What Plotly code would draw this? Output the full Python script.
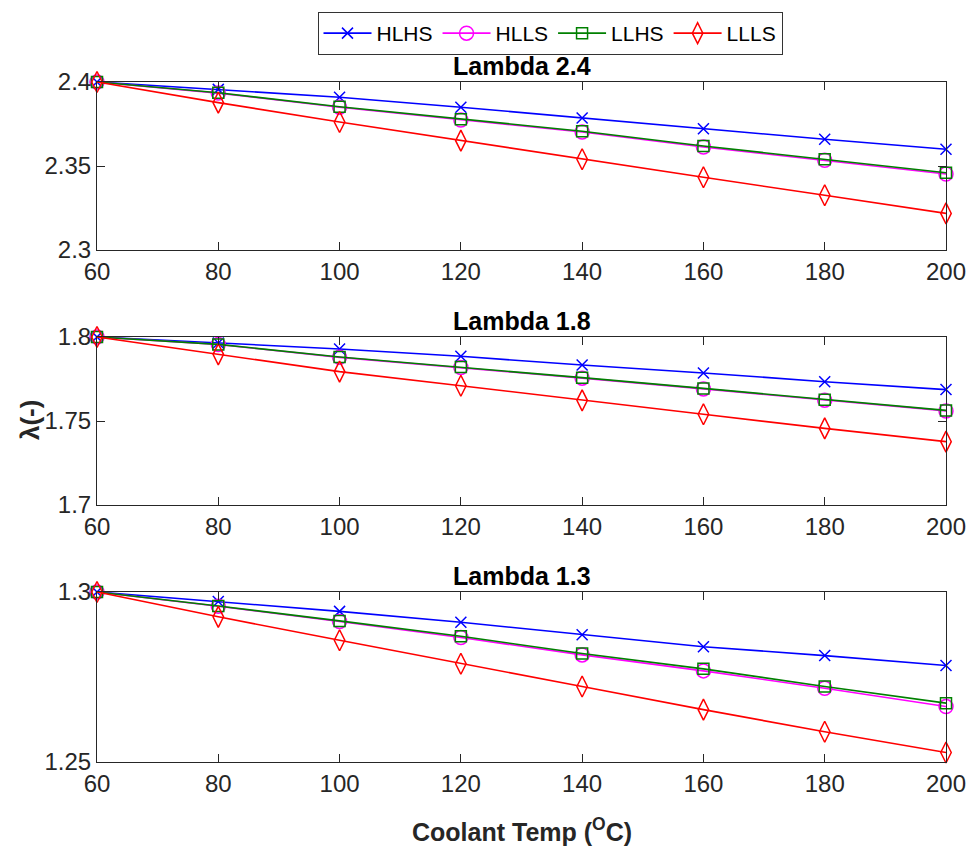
import plotly.graph_objects as go

temps = [60, 80, 100, 120, 140, 160, 180, 200]
series_names = ["HLHS", "HLLS", "LLHS", "LLLS"]

# Lambda 2.4
l24_hlhs = [2.4, 2.3956, 2.3909, 2.3850, 2.3786, 2.3722, 2.3659, 2.3600]
l24_hlls = [2.4, 2.3934, 2.3850, 2.3774, 2.3702, 2.3613, 2.3534, 2.3452]
l24_llhs = [2.4, 2.3936, 2.3853, 2.3778, 2.3707, 2.3619, 2.3540, 2.3460]
l24_llls = [2.4, 2.3877, 2.3762, 2.3651, 2.3540, 2.3433, 2.3326, 2.3218]

# Lambda 1.8
l18_hlhs = [1.8, 1.7964, 1.7929, 1.7885, 1.7833, 1.7786, 1.7734, 1.7687]
l18_hlls = [1.8, 1.7955, 1.7879, 1.7818, 1.7755, 1.7691, 1.7624, 1.7560]
l18_llhs = [1.8, 1.7956, 1.7881, 1.7821, 1.7758, 1.7694, 1.7627, 1.7563]
l18_llls = [1.8, 1.7897, 1.7794, 1.7710, 1.7623, 1.7540, 1.7456, 1.7377]

# Lambda 1.3
l13_hlhs = [1.3, 1.2972, 1.2943, 1.2911, 1.2874, 1.2839, 1.2813, 1.2784]
l13_hlls = [1.3, 1.2958, 1.2913, 1.2866, 1.2815, 1.2768, 1.2717, 1.2663]
l13_llhs = [1.3, 1.2959, 1.2915, 1.2870, 1.2819, 1.2774, 1.2722, 1.2673]
l13_llls = [1.3, 1.2927, 1.2858, 1.2789, 1.2722, 1.2654, 1.2589, 1.2528]

panel_titles = ["Lambda 2.4", "Lambda 1.8", "Lambda 1.3"]
x_ticks = [60, 80, 100, 120, 140, 160, 180, 200]
y_ticks = [[2.3, 2.35, 2.4], [1.7, 1.75, 1.8], [1.25, 1.3]]
y_ticktext = [["2.3", "2.35", "2.4"], ["1.7", "1.75", "1.8"], ["1.25", "1.3"]]
y_ranges = [[2.3, 2.4], [1.7, 1.8], [1.25, 1.3]]

panels = [
    [l24_hlhs, l24_hlls, l24_llhs, l24_llls],
    [l18_hlhs, l18_hlls, l18_llhs, l18_llls],
    [l13_hlhs, l13_hlls, l13_llhs, l13_llls],
]

colors = ["#0000FF", "#FF00FF", "#008000", "#FF0000"]
symbols = ["x-thin-open", "circle-open", "square-open", "diamond-tall-open"]
sizes = [11, 14, 11, 15]

H = 847.0
W = 969.0
ML, MR = 97, 23
PW = W - ML - MR
px_boxes = [(82, 250), (337, 505), (592, 762)]
domains = [[1 - b / H, 1 - t / H] for (t, b) in px_boxes]

FONT = "Liberation Sans"
AXC = "#262626"

fig = go.Figure()
for p, data in enumerate(panels):
    xa = "x" if p == 0 else f"x{p+1}"
    ya = "y" if p == 0 else f"y{p+1}"
    for s, vals in enumerate(data):
        fig.add_trace(go.Scatter(
            x=temps, y=vals, mode="lines+markers", name=series_names[s],
            xaxis=xa, yaxis=ya, showlegend=(p == 0),
            line=dict(color=colors[s], width=1.6),
            marker=dict(symbol=symbols[s], size=sizes[s], color=colors[s],
                        line=dict(color=colors[s], width=1.5)),
            cliponaxis=False,
        ))

layout = dict(
    width=969, height=847,
    margin=dict(l=ML, r=MR, t=0, b=0, autoexpand=False),
    paper_bgcolor="white", plot_bgcolor="white",
    font=dict(family=FONT, size=22, color="black"),
    legend=dict(orientation="h", x=(550 - ML) / PW, xanchor="center",
                y=1 - 12 / H, yanchor="top",
                bordercolor="#333333", borderwidth=1, bgcolor="white",
                font=dict(family=FONT, size=21, color="black"),
                itemwidth=48, tracegroupgap=0),
    annotations=[],
)
for p in range(3):
    xkey = "xaxis" if p == 0 else f"xaxis{p+1}"
    ykey = "yaxis" if p == 0 else f"yaxis{p+1}"
    ya = "y" if p == 0 else f"y{p+1}"
    xa = "x" if p == 0 else f"x{p+1}"
    layout[xkey] = dict(
        domain=[0, 1], anchor=ya, range=[60, 200], tickvals=x_ticks,
        showline=True, linecolor=AXC, linewidth=1, mirror="allticks",
        ticks="inside", ticklen=8, tickcolor=AXC, showgrid=False, zeroline=False,
        tickfont=dict(family=FONT, size=24, color=AXC),
    )
    layout[ykey] = dict(
        domain=domains[p], anchor=xa, range=y_ranges[p], tickvals=y_ticks[p],
        ticktext=y_ticktext[p],
        showline=True, linecolor=AXC, linewidth=1, mirror="allticks",
        ticks="inside", ticklen=8, tickcolor=AXC, showgrid=False, zeroline=False,
        tickfont=dict(family=FONT, size=24, color=AXC),
    )
    layout["annotations"].append(dict(
        text=f"<b>{panel_titles[p]}</b>", xref="paper", yref="paper",
        x=0.5, y=domains[p][1], yanchor="bottom", xanchor="center", showarrow=False,
        font=dict(family=FONT, size=25, color="black"), yshift=0,
    ))

layout["annotations"].append(dict(
    text="<b>Coolant Temp (<sup>O</sup>C)</b>", xref="paper", yref="paper",
    x=0.5, y=1 - 830 / H, xanchor="center", yanchor="middle", showarrow=False,
    font=dict(family=FONT, size=25, color=AXC),
))
layout["annotations"].append(dict(
    text="<b>λ(-)</b>", xref="paper", yref="paper",
    x=(30 - ML) / PW, y=1 - 420 / H, xanchor="center", yanchor="middle", showarrow=False,
    textangle=-90, font=dict(family=FONT, size=26, color=AXC),
))

fig.update_layout(**layout)
fig.write_html("out.html")
